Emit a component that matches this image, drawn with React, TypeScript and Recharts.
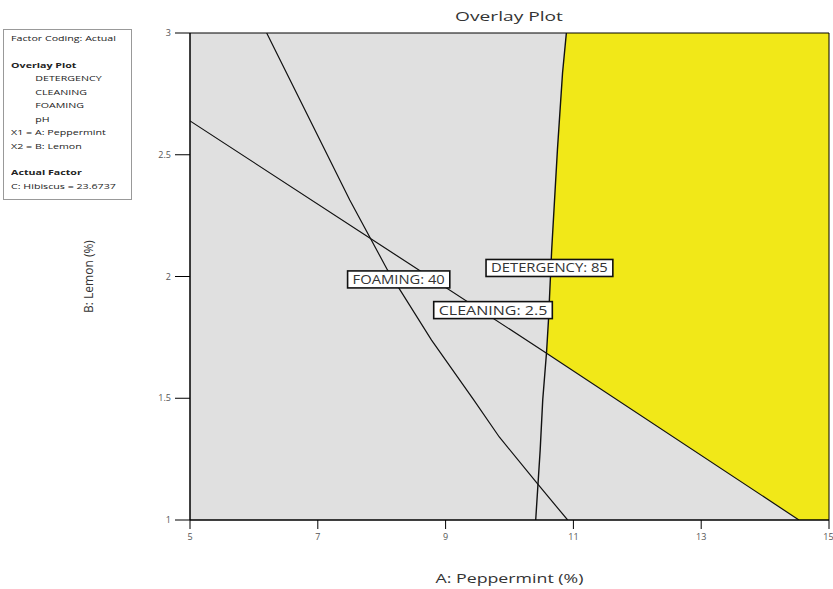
import React from "react";
import {
  ComposedChart,
  Line,
  Area,
  XAxis,
  YAxis,
  CartesianGrid,
  ReferenceArea,
  ReferenceDot,
} from "recharts";

const xTicks = [5, 7, 9, 11, 13, 15];
const yTicks = [1, 1.5, 2, 2.5, 3];

// contour lines (A: Peppermint, B: Lemon)
const detergencyLine = [
  { x: 10.41, y: 1.0 },
  { x: 10.44, y: 1.123 },
  { x: 10.48, y: 1.287 },
  { x: 10.52, y: 1.493 },
  { x: 10.58, y: 1.69 },
  { x: 10.61, y: 1.821 },
  { x: 10.66, y: 2.109 },
  { x: 10.75, y: 2.52 },
  { x: 10.83, y: 2.836 },
  { x: 10.89, y: 3.0 },
];

const cleaningLine = [
  { x: 5, y: 2.639 },
  { x: 10.58, y: 1.685 },
  { x: 14.53, y: 1.0 },
];

const foamingLine = [
  { x: 6.2, y: 3.0 },
  { x: 7.5, y: 2.314 },
  { x: 8.09, y: 2.027 },
  { x: 8.78, y: 1.739 },
  { x: 9.44, y: 1.493 },
  { x: 9.84, y: 1.341 },
  { x: 10.44, y: 1.148 },
  { x: 10.91, y: 1.0 },
];

// feasible (yellow) window: [lower, upper] of B at each A
const windowRegion = [
  { x: 10.58, range: [1.685, 1.685] },
  { x: 10.61, range: [1.68, 1.821] },
  { x: 10.66, range: [1.671, 2.109] },
  { x: 10.75, range: [1.656, 2.52] },
  { x: 10.83, range: [1.642, 2.836] },
  { x: 10.89, range: [1.631, 3.0] },
  { x: 14.53, range: [1.0, 3.0] },
  { x: 15, range: [1.0, 3.0] },
];

const contourLabels = [
  { text: "FOAMING: 40", x: 8.266, y: 1.988 },
  { text: "DETERGENCY: 85", x: 10.625, y: 2.035 },
  { text: "CLEANING: 2.5", x: 9.742, y: 1.862 },
];

const legendLines = [
  { text: "Factor Coding: Actual", bold: false, indent: false, gap: 0 },
  { text: "Overlay Plot", bold: true, indent: false, gap: 13 },
  { text: "DETERGENCY", bold: false, indent: true, gap: 0 },
  { text: "CLEANING", bold: false, indent: true, gap: 0 },
  { text: "FOAMING", bold: false, indent: true, gap: 0 },
  { text: "pH", bold: false, indent: true, gap: 0 },
  { text: "X1 = A: Peppermint", bold: false, indent: false, gap: 0 },
  { text: "X2 = B: Lemon", bold: false, indent: false, gap: 0 },
  { text: "Actual Factor", bold: true, indent: false, gap: 13 },
  { text: "C: Hibiscus = 23.6737", bold: false, indent: false, gap: 0 },
];

const FONT = "'Open Sans', 'DejaVu Sans', sans-serif";

const LabelBox = (props: any) => {
  const { cx, cy, text } = props;
  const w = text.length * 8.2 + 12;
  const h = 17;
  return (
    <g>
      <rect
        x={cx - w / 2}
        y={cy - h / 2}
        width={w}
        height={h}
        fill="#fff"
        stroke="#111"
        strokeWidth={1.6}
      />
      <text
        x={cx - w / 2 + 5}
        y={cy + 4.5}
        fontSize={12}
        fontFamily={FONT}
        fill="#333"
        textLength={w - 10}
        lengthAdjust="spacingAndGlyphs"
      >
        {text}
      </text>
    </g>
  );
};

export default function App() {
  return (
    <div
      style={{
        position: "absolute",
        left: 0,
        top: 0,
        width: 833,
        height: 589,
        background: "#fff",
        fontFamily: FONT,
      }}
    >
      <ComposedChart
        width={833}
        height={589}
        margin={{ top: 33, right: 4, bottom: 0, left: 0 }}
        style={{ position: "absolute", left: 0, top: 0 }}
      >
        <CartesianGrid
          horizontal={false}
          vertical={false}
          fill="#e0e0e0"
          fillOpacity={1}
        />
        <XAxis
          type="number"
          dataKey="x"
          domain={[5, 15]}
          ticks={xTicks}
          allowDataOverflow
          height={69}
          stroke="#000"
          tickSize={9}
          tickMargin={5}
          tick={{ fontSize: 9, fill: "#555", fontFamily: FONT }}
          label={{
            content: (p: any) => {
              const vb = p.viewBox;
              const cx = vb.x + vb.width / 2;
              return (
                <text
                  x={cx}
                  y={vb.y + vb.height - 6}
                  textAnchor="middle"
                  fontSize={13}
                  fill="#333"
                  fontFamily={FONT}
                  textLength={148}
                  lengthAdjust="spacingAndGlyphs"
                >
                  A: Peppermint (%)
                </text>
              );
            },
          }}
        />
        <YAxis
          type="number"
          domain={[1, 3]}
          ticks={yTicks}
          allowDataOverflow
          width={190}
          stroke="#000"
          tickSize={15}
          tickMargin={4}
          tick={{ fontSize: 9, fill: "#555", fontFamily: FONT }}
          label={{
            content: (p: any) => {
              const vb = p.viewBox;
              const cy = vb.y + vb.height / 2;
              return (
                <text
                  x={88}
                  y={cy}
                  transform={`rotate(-90, 88, ${cy})`}
                  textAnchor="middle"
                  dominantBaseline="central"
                  fontSize={12}
                  fill="#333"
                  fontFamily={FONT}
                >
                  B: Lemon (%)
                </text>
              );
            },
          }}
        />
        <Area
          data={windowRegion}
          dataKey="range"
          type="linear"
          fill="#f1e818"
          fillOpacity={1}
          stroke="none"
          isAnimationActive={false}
        />
        <Line
          data={cleaningLine}
          dataKey="y"
          type="linear"
          stroke="#111"
          strokeWidth={1.2}
          dot={false}
          isAnimationActive={false}
        />
        <Line
          data={foamingLine}
          dataKey="y"
          type="linear"
          stroke="#111"
          strokeWidth={1.2}
          dot={false}
          isAnimationActive={false}
        />
        <Line
          data={detergencyLine}
          dataKey="y"
          type="linear"
          stroke="#111"
          strokeWidth={1.4}
          dot={false}
          isAnimationActive={false}
        />
        <ReferenceArea
          x1={5}
          x2={15}
          y1={1}
          y2={3}
          fill="none"
          stroke="#000"
          strokeWidth={1}
          ifOverflow="visible"
        />
        {contourLabels.map((l) => (
          <ReferenceDot
            key={l.text}
            x={l.x}
            y={l.y}
            ifOverflow="visible"
            shape={(p: any) => <LabelBox {...p} text={l.text} />}
          />
        ))}
      </ComposedChart>

      <div
        style={{
          position: "absolute",
          left: 509,
          top: 7,
          fontSize: 13.5,
          color: "#333",
          whiteSpace: "nowrap",
          transform: "translateX(-50%) scaleX(1.42)",
        }}
      >
        Overlay Plot
      </div>

      <div
        style={{
          position: "absolute",
          left: 3,
          top: 29,
          width: 129,
          height: 171,
          border: "1px solid #999",
          boxSizing: "border-box",
          background: "#fff",
        }}
      >
        <div
          style={{
            padding: "2px 0 0 5px",
            fontSize: 7.5,
            lineHeight: "13.5px",
            color: "#222",
            transformOrigin: "0 0",
            transform: "scaleX(1.42)",
          }}
        >
          {legendLines.map((l) => (
            <div
              key={l.text}
              style={{
                fontWeight: l.bold ? 700 : 400,
                paddingLeft: l.indent ? 17 : 0,
                marginTop: l.gap,
                whiteSpace: "nowrap",
              }}
            >
              {l.text}
            </div>
          ))}
        </div>
      </div>
    </div>
  );
}
